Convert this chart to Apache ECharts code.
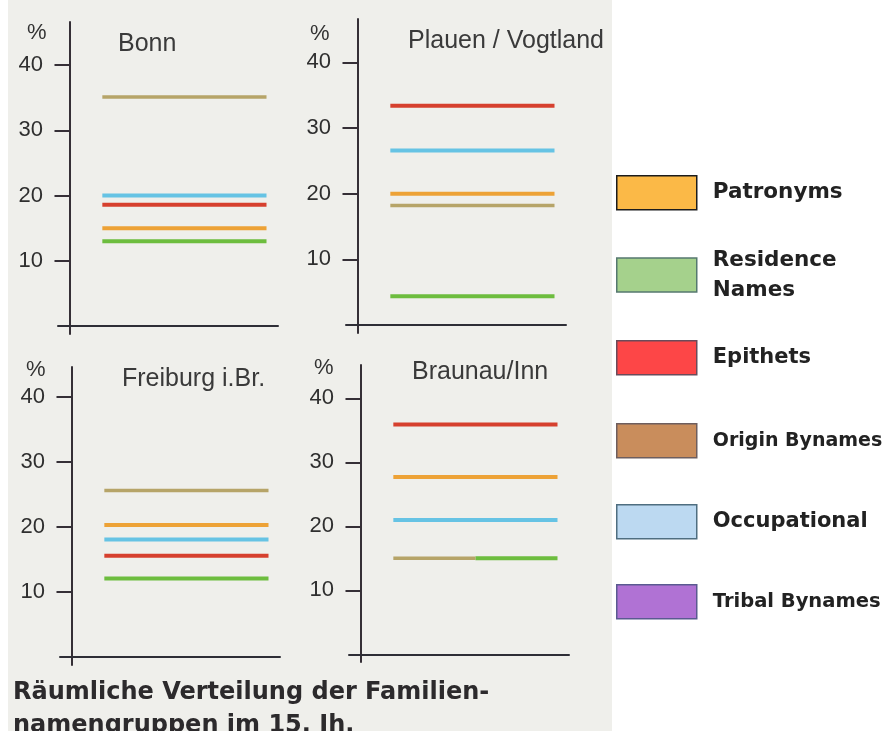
<!DOCTYPE html>
<html>
<head>
<meta charset="utf-8">
<script src="https://cdn.jsdelivr.net/npm/echarts@6/dist/echarts.min.js"></script>
<style>
  html, body { margin: 0; padding: 0; background: #fff; }
  #chart { width: 883px; height: 731px; }
</style>
</head>
<body>
<div id="chart"></div>
<script>
// Daten: Anteil der Namengruppen je Stadt (%)
var cities = ['Bonn', 'Plauen / Vogtland', 'Freiburg i.Br.', 'Braunau/Inn'];
var groups = ['Patronyms', 'Residence Names', 'Epithets', 'Origin Bynames', 'Occupational', 'Tribal Bynames'];
var patronyms    = [15.0, 20.0, 20.3, 27.7];
var residence    = [13.0, 4.4, 12.1, 15.0];
var epithets     = [18.6, 33.4, 15.6, 35.9];
var origin       = [35.1, 18.2, 25.6, 15.0];
var occupational = [20.0, 26.6, 18.1, 21.0];
var tribal       = [null, null, null, null];
var yTicks = [10, 20, 30, 40];
var caption = 'Räumliche Verteilung der Familien-\nnamengruppen im 15. Jh.';

var groupValues = [patronyms, residence, epithets, origin, occupational, tribal];
// Farben der Linien (Scan) und der Legende
var lineColors = ['#eda236', '#6dbd3e', '#d6402e', '#b6a468', '#66c3e4', '#a66ccc'];
var legendFill = ['#fbb947', '#a5d18c', '#fd4647', '#c98d5c', '#bcd9f1', '#b072d4'];
var legendBorder = ['#1c1c1c', '#55786f', '#6b4b5a', '#6e5e5e', '#4f6e80', '#5a5a90'];
var legendTops = [175, 245, 340, 423, 504, 584];
var legendFontSize = [21.5, 21.5, 21, 19, 21, 19.5];

// Lage der vier Teilbilder
var panels = [
    {left: 58, top: 22, height: 312, yMax: 46.6, titleLeft: 118, titleTop: 32, pctGap: 0, pctPad: 23},
    {left: 346, top: 19, height: 314, yMax: 46.6, titleLeft: 408, titleTop: 29, pctGap: -4, pctPad: 28},
    {left: 60, top: 367, height: 298, yMax: 44.6, titleLeft: 122, titleTop: 367, pctGap: 8, pctPad: 26},
    {left: 349, top: 365, height: 297, yMax: 45.2, titleLeft: 412, titleTop: 360, pctGap: 8, pctPad: 27}
];

var grids = [], xAxes = [], yAxes = [], titles = [], series = [];

panels.forEach(function (p, i) {
    grids.push({left: p.left, top: p.top, width: 220, height: p.height});
    titles.push({
        text: cities[i], left: p.titleLeft, top: p.titleTop, padding: 0,
        textStyle: {fontFamily: 'Liberation Sans', fontSize: 25, fontWeight: 'normal', color: '#3a3a3a'}
    });
    xAxes.push({
        type: 'value', gridIndex: i, min: -0.35, max: 6.35,
        axisLine: {show: true, onZero: true, lineStyle: {color: '#2e2e36', width: 2}},
        axisTick: {show: false}, axisLabel: {show: false}, splitLine: {show: false}
    });
    yAxes.push({
        type: 'value', gridIndex: i, min: -1.2, max: p.yMax,
        name: '%', nameLocation: 'end', nameGap: p.pctGap,
        nameTextStyle: {fontFamily: 'Liberation Sans', fontSize: 22, color: '#333',
            align: 'right', verticalAlign: 'top', padding: [0, p.pctPad, 0, 0]},
        axisLine: {show: true, onZero: true, lineStyle: {color: '#352f36', width: 2}},
        axisTick: {show: true, length: 15, customValues: yTicks, lineStyle: {color: '#352f36', width: 2}},
        axisLabel: {customValues: yTicks, margin: 15, fontFamily: 'Liberation Sans', fontSize: 22, color: '#2f2f2f'},
        splitLine: {show: false}
    });
});

groups.forEach(function (g, k) {
    panels.forEach(function (p, i) {
        var v = groupValues[k][i];
        var data = [];
        if (v != null) {
            var x0 = 1, x1 = 6;
            // Braunau: Herkunfts- und Wohnstättennamen liegen beide bei 15 %
            if (i === 3 && k === 3) x1 = 3.5;
            if (i === 3 && k === 1) x0 = 3.5;
            data = [[x0, v], [x1, v]];
        }
        series.push({
            name: g, type: 'line', xAxisIndex: i, yAxisIndex: i,
            data: data, symbol: 'none', silent: true, animation: false,
            color: lineColors[k],
            lineStyle: {color: lineColors[k], width: k === 3 ? 3.5 : 4}
        });
    });
});

var legends = groups.map(function (g, k) {
    return {
        left: 616, top: legendTops[k], orient: 'vertical', padding: 0,
        itemWidth: 80, itemHeight: 34, selectedMode: false,
        data: [{name: g, icon: 'rect',
            itemStyle: {color: legendFill[k], borderColor: legendBorder[k], borderWidth: 1.5}}],
        formatter: function (name) { return name === 'Residence Names' ? 'Residence\nNames' : name; },
        textStyle: {fontFamily: 'DejaVu Sans', fontWeight: 'bold', fontSize: legendFontSize[k], color: '#222',
            lineHeight: 30, padding: [0, 0, 0, 11]}
    };
});

titles.push({
    text: caption, left: 13, top: 676, padding: 0,
    textStyle: {fontFamily: 'DejaVu Sans', fontWeight: 'bold', fontSize: 24, lineHeight: 33, color: '#2c2a2c'}
});

var chart = echarts.init(document.getElementById('chart'), null, {renderer: 'canvas'});
chart.setOption({
    backgroundColor: '#ffffff',
    animation: false,
    graphic: [{type: 'rect', left: 8, top: 0, z: -10, silent: true,
        shape: {width: 604, height: 731}, style: {fill: '#efefeb'}}],
    title: titles,
    legend: legends,
    grid: grids,
    xAxis: xAxes,
    yAxis: yAxes,
    series: series
});
</script>
</body>
</html>
